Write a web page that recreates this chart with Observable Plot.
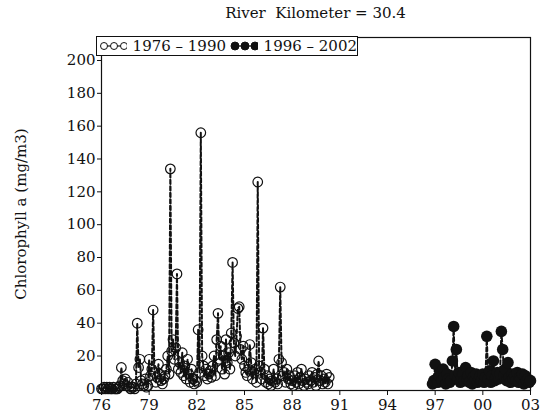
<!DOCTYPE html>
<html><head><meta charset="utf-8">
<script src="https://cdn.jsdelivr.net/npm/d3@7"></script>
<script src="https://cdn.jsdelivr.net/npm/@observablehq/plot@0.6"></script>
<style>
body{margin:0;background:#fff;font-family:"DejaVu Serif",serif;color:#111;}
#wrap{position:relative;width:550px;height:419px;overflow:hidden;}
#title{height:28px;line-height:26px;margin-left:101px;width:429px;text-align:center;font-size:15px;}
#legend{position:absolute;left:96px;top:36px;height:20px;width:262px;border:1.2px solid #111;background:#fff;font-size:15px;line-height:20px;white-space:nowrap;display:flex;align-items:center;box-sizing:border-box;}
#legend svg{display:block}
</style></head>
<body>
<div id="wrap">
<div id="title">River&nbsp; Kilometer = 30.4</div>
<div id="chart"></div>
<div id="legend"></div>
</div>
<script>
// monthly samples
const s1Start = 1976; // Jan 1976
const s1Values = [
  0,0,1,0,1,0,1,0,0,1,0,0,            // 1976
  0,1,2,13,5,3,6,2,4,1,0,1,           // 1977
  1,0,3,40,13,18,5,3,2,6,1,2,         // 1978
  18,8,12,48,10,4,7,15,9,5,3,6,       // 1979
  8,12,20,9,134,23,30,18,25,70,12,16, // 1980
  10,22,8,14,6,18,9,4,12,6,3,5,       // 1981
  4,36,10,156,20,14,8,12,6,9,11,7,    // 1982
  14,20,8,30,46,18,26,12,20,9,30,16,  // 1983
  22,12,34,77,28,20,32,49,50,24,18,26,// 1984
  14,10,8,12,27,16,6,10,12,4,126,14,  // 1985
  10,6,37,12,4,8,3,6,2,5,12,4,        // 1986
  6,3,18,62,16,8,10,4,12,6,8,3,       // 1987
  5,2,8,4,10,3,7,12,5,2,6,4,          // 1988
  3,8,5,10,4,7,2,9,17,5,8,3,          // 1989
  6,4,9,3,7                           // 1990
];
const s2Start = 1996 + 10/12; // Nov 1996
const s2Values = [
  3,5,                                // 1996
  15,6,4,8,10,5,12,7,3,9,6,4,         // 1997
  5,17,38,8,24,6,10,4,7,9,5,13,       // 1998
  6,8,4,10,3,7,5,9,4,6,8,5,           // 1999
  9,4,7,32,6,11,4,8,17,5,7,10,        // 2000
  6,9,35,24,8,12,5,16,7,4,9,6,        // 2001
  8,5,10,4,7,6,9,3,8,5,6,4,           // 2002
  5                                   // 2003
];
const xTicks = [1976,1979,1982,1985,1988,1991,1994,1997,2000,2003];
const xTickLabels = ["76","79","82","85","88","91","94","97","00","03"];
const yTicks = [0,20,40,60,80,100,120,140,160,180,200];
const seriesNames = ["1976 \u2013 1990", "1996 \u2013 2002"];

const s1 = s1Values.map((v,i)=>({t: s1Start + i/12, v}));
const s2 = s2Values.map((v,i)=>({t: s2Start + i/12, v}));

const chart = Plot.plot({
  width: 550, height: 391,
  marginLeft: 101, marginRight: 20, marginTop: 9, marginBottom: 29,
  style: {fontFamily: "DejaVu Serif", fontSize: "15px", background: "white", color: "#111"},
  x: {domain: [1976, 2003], ticks: xTicks, tickFormat: d => xTickLabels[xTicks.indexOf(d)], label: null, tickSize: 5, tickPadding: 4},
  y: {domain: [-1, 214], ticks: yTicks, label: "Chlorophyll a (mg/m3)", labelAnchor: "center", labelArrow: "none", labelOffset: 86, tickSize: 4, tickPadding: 2},
  marks: [
    Plot.frame({stroke: "#111", strokeWidth: 1.2}),
    Plot.line(s1, {x: "t", y: "v", stroke: "#111", strokeWidth: 2, strokeDasharray: "4,2.5"}),
    Plot.dot(s1, {x: "t", y: "v", r: 4.8, stroke: "#111", strokeWidth: 1.2, fill: "none"}),
    Plot.line(s2, {x: "t", y: "v", stroke: "#111", strokeWidth: 2, strokeDasharray: "4,2.5"}),
    Plot.dot(s2, {x: "t", y: "v", r: 5.8, fill: "#111", stroke: "none"})
  ]
});
document.getElementById("chart").appendChild(chart);

// legend
const lg = document.getElementById("legend");
function sym(filled){
  const ns = "http://www.w3.org/2000/svg";
  const s = document.createElementNS(ns, "svg");
  s.setAttribute("width", 30); s.setAttribute("height", 14);
  const l = document.createElementNS(ns, "line");
  l.setAttribute("x1", 4); l.setAttribute("x2", 26); l.setAttribute("y1", 7); l.setAttribute("y2", 7);
  l.setAttribute("stroke", "#111"); l.setAttribute("stroke-width", 1.2);
  s.appendChild(l);
  [5,15,25].forEach(cx => {
    const c = document.createElementNS(ns, "circle");
    c.setAttribute("cx", cx); c.setAttribute("cy", 7); c.setAttribute("r", filled ? 4 : 3.5);
    c.setAttribute("fill", filled ? "#111" : "#fff"); c.setAttribute("stroke", "#111"); c.setAttribute("stroke-width", 1);
    s.appendChild(c);
  });
  return s;
}
function txt(t, ml, mr){ const sp = document.createElement("span"); sp.textContent = t; sp.style.marginLeft = ml + "px"; sp.style.marginRight = mr + "px"; return sp; }
const a = sym(false); a.style.marginLeft = "2px"; lg.appendChild(a);
lg.appendChild(txt(seriesNames[0], 6, 4));
lg.appendChild(sym(true));
lg.appendChild(txt(seriesNames[1], 6, 0));
</script>
</body></html>
